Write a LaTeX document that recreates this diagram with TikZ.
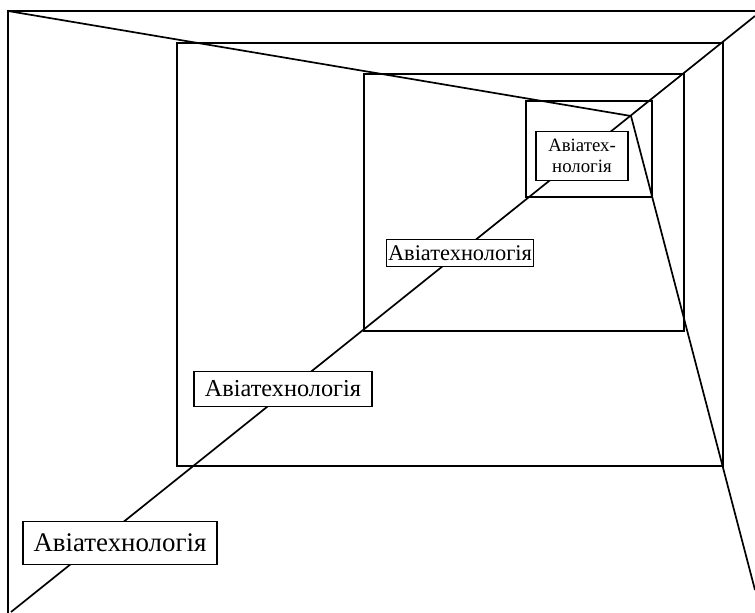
\documentclass[tikz,border=0pt]{standalone}
\usepackage{fontspec}
\setmainfont{Liberation Serif}
\usetikzlibrary{positioning}

\begin{document}
\begin{tikzpicture}
[x=1pt,y=-1pt,line width=1.7pt,
 tag/.style={draw,fill=white,inner sep=0pt,align=center}]
\useasboundingbox (0,0) rectangle (755,613);
% corners and vanishing point
\coordinate (tl) at (8,11);
\coordinate (bl) at (11,612);
\coordinate (tr) at (755,16);
\coordinate (br) at (755,590);
\coordinate (vp) at (631,116);
% frames
\draw (8,613) -- (tl) -- (755,11);
\draw (177,43) rectangle (723,466);
\draw (364,74) rectangle (684,331);
\draw (526,101) rectangle (652,197);
% perspective lines
\draw (tl) -- (vp) -- (br);
\draw (bl) -- (tr);
% labels
\node[tag,minimum width=194pt,minimum height=43pt,font=\fontsize{26.9}{30}\selectfont] (near) at (120,543) {Авіатехнологія};
\node[tag,minimum width=178pt,minimum height=35pt,font=\fontsize{24.3}{27}\selectfont] (mid) at (283,389) {Авіатехнологія};
\node[tag,minimum width=147pt,minimum height=27pt,font=\fontsize{22.4}{25}\selectfont] (far) at (460,253) {Авіатехнологія};
\node[tag,minimum width=92pt,minimum height=49pt,font=\fontsize{18.8}{21}\selectfont] (farthest) at (582,156) {Авіатех-\\нологія};
\end{tikzpicture}
\end{document}
